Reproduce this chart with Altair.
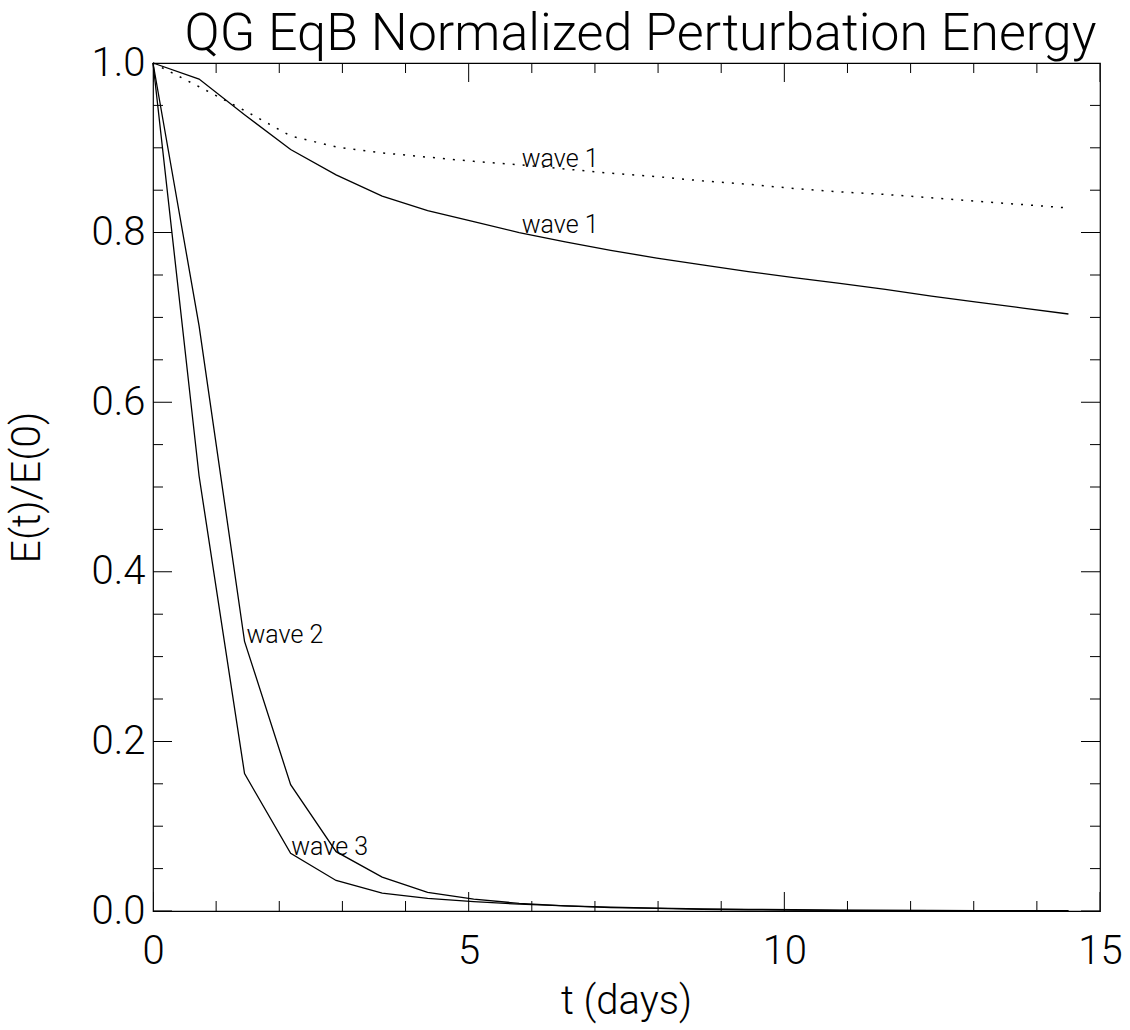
import altair as alt
import pandas as pd

# ---- data ----
t_days = [0.0, 0.73, 1.45, 2.18, 2.9, 3.63, 4.35, 5.08, 5.8, 6.53, 7.25,
          7.98, 8.7, 9.43, 10.15, 10.88, 11.6, 12.33, 13.05, 13.78, 14.5]
wave1_solid = [1.0, 0.981, 0.939, 0.898, 0.868, 0.843, 0.826, 0.813, 0.800, 0.789, 0.779,
               0.770, 0.762, 0.754, 0.747, 0.740, 0.733, 0.725, 0.718, 0.711, 0.704]
wave1_dotted = [1.0, 0.972, 0.944, 0.914, 0.901, 0.894, 0.889, 0.884, 0.880, 0.875, 0.870,
                0.866, 0.861, 0.857, 0.852, 0.848, 0.845, 0.841, 0.837, 0.833, 0.829]
wave2 = [1.0, 0.690, 0.318, 0.149, 0.070, 0.040, 0.022, 0.014, 0.009, 0.006, 0.004,
         0.003, 0.002, 0.0015, 0.001, 0.0008, 0.0006, 0.0005, 0.0004, 0.0003, 0.0002]
wave3 = [1.0, 0.513, 0.162, 0.068, 0.036, 0.021, 0.015, 0.011, 0.008, 0.006, 0.0045,
         0.0035, 0.0025, 0.002, 0.0015, 0.001, 0.0008, 0.0006, 0.0005, 0.0004, 0.0003]

label_text = ["wave 1", "wave 1", "wave 2", "wave 3"]
label_t = [5.84, 5.84, 1.48, 2.19]
label_val = [0.877, 0.800, 0.316, 0.066]

x_major = [0, 5, 10, 15]
x_minor = [1, 2, 3, 4, 6, 7, 8, 9, 11, 12, 13, 14]
y_major = [0.0, 0.2, 0.4, 0.6, 0.8, 1.0]
y_minor = [0.05, 0.1, 0.15, 0.25, 0.3, 0.35, 0.45, 0.5, 0.55, 0.65, 0.7, 0.75, 0.85, 0.9, 0.95]

# ---- tables ----
solid_df = pd.concat([
    pd.DataFrame({"t": t_days, "e": wave1_solid, "series": "wave 1"}),
    pd.DataFrame({"t": t_days, "e": wave2, "series": "wave 2"}),
    pd.DataFrame({"t": t_days, "e": wave3, "series": "wave 3"}),
])
dotted_df = pd.DataFrame({"t": t_days, "e": wave1_dotted, "series": "wave 1 dotted"})
label_df = pd.DataFrame({"t": label_t, "e": label_val, "label": label_text})

MAJ, MIN = 38, 20
xt_df = pd.DataFrame({"t": x_major + x_minor,
                      "len": [MAJ] * len(x_major) + [MIN] * len(x_minor),
                      "ybot": 0.0, "ytop": 1.0})
yt_df = pd.DataFrame({"e": y_major + y_minor,
                      "len": [MAJ] * len(y_major) + [MIN] * len(y_minor),
                      "xl": 0.0, "xr": 15.0})

FONT = "Roboto"
FW = 300

xscale = alt.Scale(domain=[0, 15], nice=False, zero=False)
yscale = alt.Scale(domain=[0, 1], nice=False, zero=False)
xaxis = alt.Axis(values=x_major, format="d", title="t (days)", ticks=False, domain=False,
                 grid=False, labelFont=FONT, labelFontWeight=FW, labelFontSize=40,
                 labelPadding=20, labelColor="black", labelFlush=False, titleFont=FONT,
                 titleFontWeight=FW, titleFontSize=40, titleColor="black", titleX=473,
                 titleY=90, titleBaseline="middle")
yaxis = alt.Axis(values=y_major, format=".1f", title="E(t)/E(0)", ticks=False, domain=False,
                 grid=False, labelFont=FONT, labelFontWeight=FW, labelFontSize=40,
                 labelPadding=8, labelColor="black", labelFlush=False, titleFont=FONT,
                 titleFontWeight=FW, titleFontSize=41, titleColor="black", titleX=-126,
                 titleY=424, titleBaseline="middle", titleAlign="center")


def X(field):
    return alt.X(field, type="quantitative", scale=xscale, axis=xaxis)


def Y(field):
    return alt.Y(field, type="quantitative", scale=yscale, axis=yaxis)


solid = alt.Chart(solid_df).mark_line(color="black", strokeWidth=1.3).encode(
    x=X("t"), y=Y("e"), detail="series:N")
dotted = alt.Chart(dotted_df).mark_line(color="black", strokeWidth=1.5, strokeDash=[2, 8]).encode(
    x=X("t"), y=Y("e"))
labels = alt.Chart(label_df).mark_text(align="left", baseline="alphabetic", font=FONT,
                                       fontWeight=FW, fontSize=25, color="black").encode(
    x=X("t"), y=Y("e"), text="label:N")

tick_size = alt.Size("len:Q", scale=None, legend=None)
bottom_ticks = alt.Chart(xt_df).mark_tick(orient="vertical", thickness=1, clip=True,
                                          color="black", opacity=1).encode(
    x=X("t"), y=Y("ybot"), size=tick_size)
top_ticks = alt.Chart(xt_df).mark_tick(orient="vertical", thickness=1, clip=True,
                                       color="black", opacity=1).encode(
    x=X("t"), y=Y("ytop"), size=tick_size)
left_ticks = alt.Chart(yt_df).mark_tick(orient="horizontal", thickness=1, clip=True,
                                        color="black", opacity=1).encode(
    x=X("xl"), y=Y("e"), size=tick_size)
right_ticks = alt.Chart(yt_df).mark_tick(orient="horizontal", thickness=1, clip=True,
                                         color="black", opacity=1).encode(
    x=X("xr"), y=Y("e"), size=tick_size)

chart = alt.layer(
    bottom_ticks, top_ticks, left_ticks, right_ticks, dotted, solid, labels
).properties(
    width=947,
    height=848,
    padding={"left": 153, "top": 63, "right": 30, "bottom": 119},
    autosize=alt.AutoSizeParams(type="none"),
    background="white",
    title=alt.TitleParams("QG EqB Normalized Perturbation Energy", font=FONT, fontWeight=FW,
                          fontSize=52, anchor="middle", baseline="alphabetic", offset=-59,
                          dx=14, color="black"),
).configure_view(stroke="black", strokeWidth=1.2)

chart.save("out.html", embed_options={"renderer": "svg", "actions": False})
